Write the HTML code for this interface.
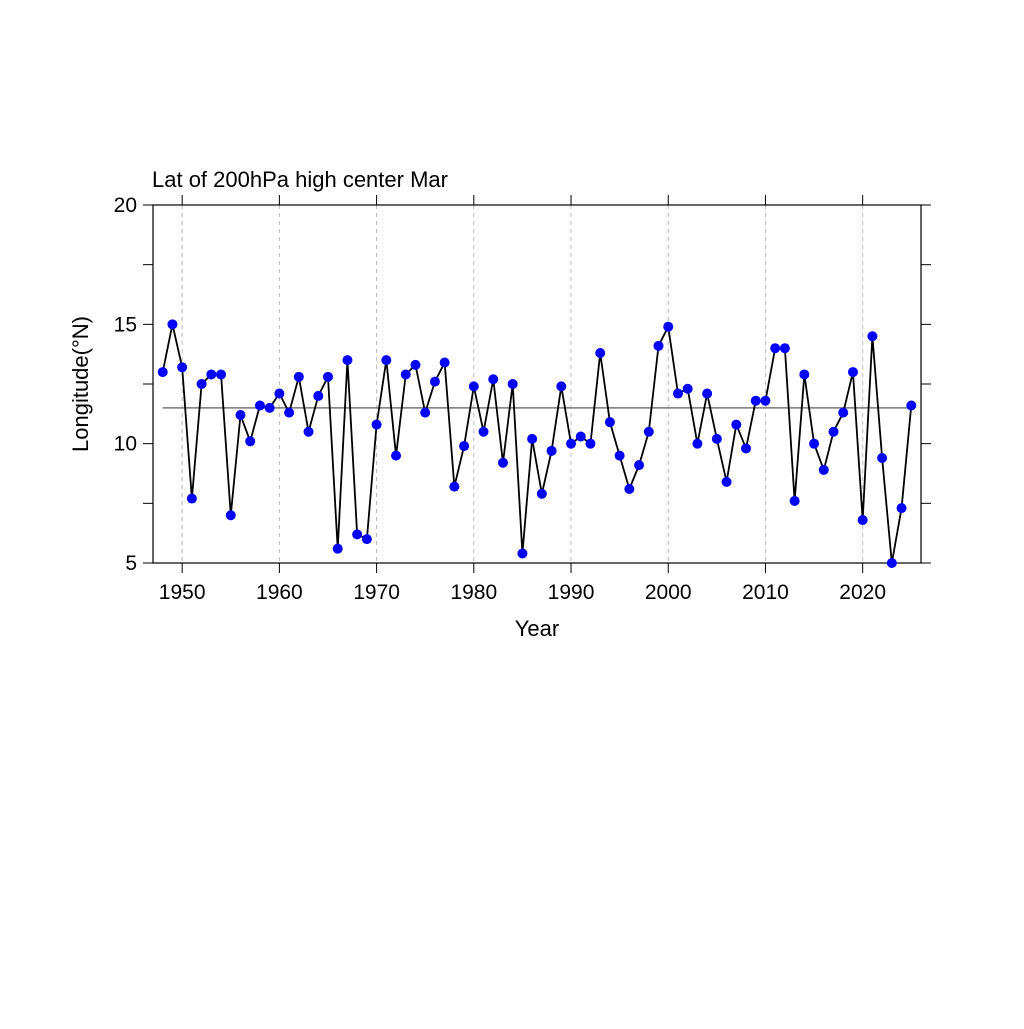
<!DOCTYPE html>
<html><head><meta charset="utf-8"><style>
html,body{margin:0;padding:0;background:#fff}
text{font-family:"Liberation Sans",sans-serif;fill:#000}
</style></head><body>
<svg id="chart" width="1024" height="1024" viewBox="0 0 1024 1024" xmlns="http://www.w3.org/2000/svg">
<g id="grid"></g>
<g id="axes"></g>
<g id="series"></g>
<text x="152" y="187" font-size="22">Lat of 200hPa high center Mar</text>
<text x="537" y="636" font-size="22" text-anchor="middle">Year</text>
<text transform="translate(88,384) rotate(-90)" font-size="22" text-anchor="middle">Longitude(°N)</text>
</svg>
<script>
const years = [];
for (let y = 1948; y <= 2025; y++) years.push(y);
const values = [13.0,15.0,13.2,7.7,12.5,12.9,12.9,7.0,11.2,10.1,11.6,11.5,12.1,11.3,12.8,10.5,12.0,12.8,5.6,13.5,6.2,6.0,10.8,13.5,9.5,12.9,13.3,11.3,12.6,13.4,8.2,9.9,12.4,10.5,12.7,9.2,12.5,5.4,10.2,7.9,9.7,12.4,10.0,10.3,10.0,13.8,10.9,9.5,8.1,9.1,10.5,14.1,14.9,12.1,12.3,10.0,12.1,10.2,8.4,10.8,9.8,11.8,11.8,14.0,14.0,7.6,12.9,10.0,8.9,10.5,11.3,13.0,6.8,14.5,9.4,5.0,7.3,11.6];
const meanValue = 11.5;
const xTicks = [1950,1960,1970,1980,1990,2000,2010,2020];
const yTicks = [5,10,15,20];
const yMinor = [7.5,12.5,17.5];

const L=153,R=921,T=205,B=563;
const X0=1947,X1=2026,Y0=5,Y1=20;
const sx=v=>L+(v-X0)/(X1-X0)*(R-L);
const sy=v=>B-(v-Y0)/(Y1-Y0)*(B-T);
const NS="http://www.w3.org/2000/svg";
function mk(tag,attrs,parent){const e=document.createElementNS(NS,tag);for(const k in attrs)e.setAttribute(k,attrs[k]);parent.appendChild(e);return e;}
const grid=document.getElementById('grid'),axes=document.getElementById('axes'),series=document.getElementById('series');

xTicks.forEach(t=>{
  const g=mk('line',{x1:sx(t),x2:sx(t),y1:T,y2:B,stroke:'#bbb','stroke-width':1,'stroke-dasharray':'4,4'},grid);
  
  
  const a=mk('line',{x1:sx(t),x2:sx(t),y1:B,y2:B+10,stroke:'#000','stroke-width':1},axes);
  
  
  const b=mk('line',{x1:sx(t),x2:sx(t),y1:T,y2:T-10,stroke:'#000','stroke-width':1},axes);
  
  
  const tx=mk('text',{x:sx(t),y:B+36,'font-size':21,'text-anchor':'middle'},axes);
  tx.textContent=t;
  
  
});
yTicks.concat(yMinor).forEach(t=>{
  const a=mk('line',{x1:L-10,x2:L,y1:sy(t),y2:sy(t),stroke:'#000','stroke-width':1},axes);
  
  
  const b=mk('line',{x1:R,x2:R+10,y1:sy(t),y2:sy(t),stroke:'#000','stroke-width':1},axes);
  
  
});
yTicks.forEach(t=>{
  const tx=mk('text',{x:L-16,y:sy(t)+7,'font-size':21,'text-anchor':'end'},axes);
  tx.textContent=t;
  
  
});
const fr=mk('rect',{x:L,y:T,width:R-L,height:B-T,fill:'none',stroke:'#000','stroke-width':1.2},axes);



const ml=mk('line',{x1:sx(years[0]),x2:sx(years[years.length-1]),y1:sy(meanValue),y2:sy(meanValue),stroke:'#777','stroke-width':1.5},series);


const pl=mk('polyline',{points:years.map((y,i)=>sx(y)+','+sy(values[i])).join(' '),fill:'none',stroke:'#000','stroke-width':1.8},series);


years.forEach((y,i)=>{
  const c=mk('circle',{cx:sx(y),cy:sy(values[i]),r:5,fill:'#0000ff'},series);
  
  
});
</script>
</body></html>
